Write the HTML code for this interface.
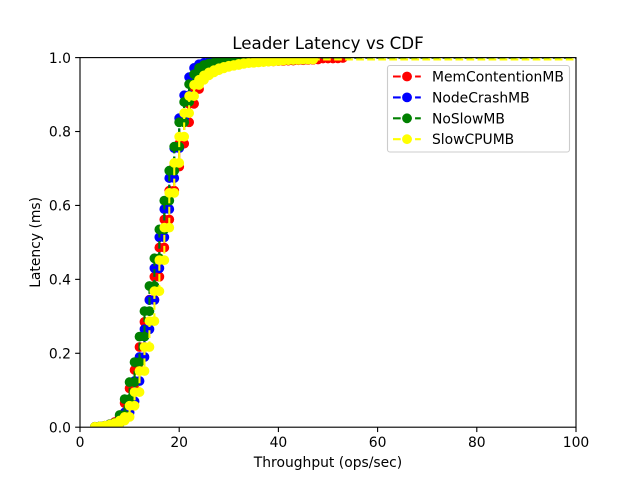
<!DOCTYPE html>
<html>
<head>
<meta charset="utf-8">
<title>Leader Latency vs CDF</title>
<style>
html,body{margin:0;padding:0;background:#fff;width:640px;height:480px;overflow:hidden}
svg{display:block}
text{font-family:"DejaVu Sans","Liberation Sans",sans-serif;fill:#000}
</style>
</head>
<body>
<svg id="chart" xmlns="http://www.w3.org/2000/svg" width="640" height="480" viewBox="0 0 640 480">
<defs><clipPath id="plot-clip"><rect x="80" y="57.6" width="496" height="369.6"/></clipPath></defs>
<rect x="80" y="57.6" width="496" height="369.6" fill="#fff"/>
<g id="series-layer" clip-path="url(#plot-clip)"></g>
<g id="tick-layer"></g>
<rect x="80" y="57.6" width="496" height="369.6" fill="none" stroke="#000" stroke-width="1.11"/>
<text x="328" y="49" font-size="16.67" text-anchor="middle">Leader Latency vs CDF</text>
<text x="328" y="467" font-size="13.89" text-anchor="middle">Throughput (ops/sec)</text>
<text x="40" y="242.4" font-size="13.89" text-anchor="middle" transform="rotate(-90 40 242.4)">Latency (ms)</text>
<g id="legend">
<rect x="387.5" y="65.5" width="182" height="86.5" rx="2.5" fill="#fff" fill-opacity="0.8" stroke="#ccc" stroke-width="1.11"/>
</g>
</svg>
<script>
const seriesNames = ["MemContentionMB", "NodeCrashMB", "NoSlowMB", "SlowCPUMB"];
const seriesColors = ["#ff0000", "#0000ff", "#008000", "#ffff00"];

const memX = [3,4,5,6,7,8,9,10,11,12,13,14,15,16,17,18,19,20,21,22,23,24,25,26,27,28,29,30,31,32,33,34,35,36,37,38,39,40,41,42,43,44,45,46,47,48,49,50,51,52,53,140];
const memY = [0.001,0.002,0.004,0.008,0.014,0.03,0.065,0.105,0.155,0.217,0.285,0.345,0.407,0.486,0.562,0.64,0.705,0.767,0.825,0.875,0.915,0.945,0.96,0.968,0.974,0.978,0.981,0.983,0.985,0.986,0.987,0.988,0.989,0.989,0.99,0.99,0.991,0.991,0.992,0.992,0.993,0.993,0.994,0.994,0.995,0.998,0.998,0.998,0.998,0.999,1,1];

const crashX = [3,4,5,6,7,8,9,10,11,12,13,14,15,16,17,18,19,20,21,22,23,24,25,26,27,28,29,30,31,32,33,34,35,36,37,38,39,40,41,42,43,44,45,140];
const crashY = [0.001,0.002,0.004,0.007,0.01,0.02,0.04,0.07,0.125,0.19,0.265,0.344,0.43,0.514,0.59,0.674,0.755,0.836,0.898,0.947,0.972,0.982,0.986,0.988,0.989,0.99,0.99,0.991,0.991,0.992,0.992,0.992,0.993,0.993,0.993,0.993,0.994,0.994,0.994,0.994,0.995,0.995,1,1];

const noSlowX = [3,4,5,6,7,8,9,10,11,12,13,14,15,16,17,18,19,20,21,22,23,24,25,26,27,28,29,30,31,32,33,34,35,36,37,38,39,40,41,42,43,44,45,140];
const noSlowY = [0.001,0.002,0.004,0.008,0.012,0.033,0.076,0.122,0.176,0.245,0.314,0.382,0.457,0.535,0.613,0.694,0.759,0.825,0.88,0.928,0.955,0.972,0.98,0.984,0.986,0.988,0.989,0.99,0.99,0.991,0.991,0.992,0.992,0.992,0.993,0.993,0.993,0.994,0.994,0.994,0.995,0.995,1,1];

const slowCpuX = [3,4,5,6,7,8,9,10,11,12,13,14,15,16,17,18,19,20,21,22,23,24,25,26,27,28,29,30,31,32,33,34,35,36,37,38,39,40,41,42,43,44,45,46,47,140];
const slowCpuY = [0.001,0.002,0.004,0.007,0.011,0.018,0.028,0.058,0.095,0.152,0.217,0.287,0.368,0.452,0.54,0.634,0.715,0.786,0.85,0.896,0.926,0.94,0.952,0.96,0.966,0.971,0.975,0.978,0.98,0.983,0.985,0.986,0.987,0.988,0.989,0.99,0.991,0.992,0.993,0.994,0.994,0.995,0.995,0.995,0.995,0.995];

const xTickValues = [0, 20, 40, 60, 80, 100];
const xTickLabels = ["0", "20", "40", "60", "80", "100"];
const yTickValues = [0, 0.2, 0.4, 0.6, 0.8, 1];
const yTickLabels = ["0.0", "0.2", "0.4", "0.6", "0.8", "1.0"];

const xDomainMax = 100;
const plotLeft = 80, plotTop = 57.6, plotWidth = 496, plotHeight = 369.6;
const NS = "http://www.w3.org/2000/svg";

function xScale(v) { return plotLeft + v / xDomainMax * plotWidth; }
function yScale(v) { return plotTop + plotHeight - v * plotHeight; }

function make(tag, attrs, parent) {
  const el = document.createElementNS(NS, tag);
  for (const k in attrs) el.setAttribute(k, attrs[k]);
  parent.appendChild(el);
  return el;
}

function stairPoints(xs, ys) {
  const pts = [];
  for (let i = 0; i < xs.length; i++) {
    pts.push([xs[i], ys[i]]);
    if (i < xs.length - 1) pts.push([xs[i + 1], ys[i]]);
  }
  return pts;
}

const seriesLayer = document.getElementById("series-layer");
const seriesXs = [memX, crashX, noSlowX, slowCpuX];
const seriesYs = [memY, crashY, noSlowY, slowCpuY];

seriesNames.forEach(function (name, s) {
  const color = seriesColors[s];
  const xs = seriesXs[s];
  const ys = seriesYs[s];
  const pts = stairPoints(xs, ys);
  const group = make("g", {}, seriesLayer);
  
  
  const d = pts.map(function (p, i) {
    return (i ? "L" : "M") + xScale(p[0]).toFixed(2) + " " + yScale(p[1]).toFixed(2);
  }).join("");
  const line = make("path", { d: d, fill: "none", stroke: color, "stroke-width": 2.08, "stroke-dasharray": "7.7 3.33" }, group);
  
  
  pts.forEach(function (p) {
    const dot = make("circle", { cx: xScale(p[0]).toFixed(2), cy: yScale(p[1]).toFixed(2), r: 4.4, fill: color, stroke: color, "stroke-width": 1 }, group);
    
    
  });
});

const tickLayer = document.getElementById("tick-layer");
xTickValues.forEach(function (v, i) {
  const x = xScale(v);
  const tick = make("line", { x1: x, x2: x, y1: 427.2, y2: 432.06, stroke: "#000", "stroke-width": 1.11 }, tickLayer);
  
  
  const label = make("text", { x: x, y: 447, "font-size": 13.89, "text-anchor": "middle" }, tickLayer);
  
  
  label.textContent = xTickLabels[i];
});
yTickValues.forEach(function (v, i) {
  const y = yScale(v);
  const tick = make("line", { x1: 75.14, x2: 80, y1: y, y2: y, stroke: "#000", "stroke-width": 1.11 }, tickLayer);
  
  
  const label = make("text", { x: 71, y: y + 5.2, "font-size": 13.89, "text-anchor": "end" }, tickLayer);
  
  
  label.textContent = yTickLabels[i];
});

const legend = document.getElementById("legend");
seriesNames.forEach(function (name, s) {
  const rowY = 76.5 + s * 20.9;
  const entry = make("g", {}, legend);
  
  
  const handle = make("line", { x1: 393, x2: 420.8, y1: rowY, y2: rowY, stroke: seriesColors[s], "stroke-width": 2.08, "stroke-dasharray": "7.7 3.33" }, entry);
  
  
  const marker = make("circle", { cx: 407, cy: rowY, r: 4.4, fill: seriesColors[s], stroke: seriesColors[s], "stroke-width": 1 }, entry);
  
  
  const label = make("text", { x: 432, y: rowY + 5, "font-size": 13.89 }, entry);
  
  
  label.textContent = name;
});
</script>
</body>
</html>
